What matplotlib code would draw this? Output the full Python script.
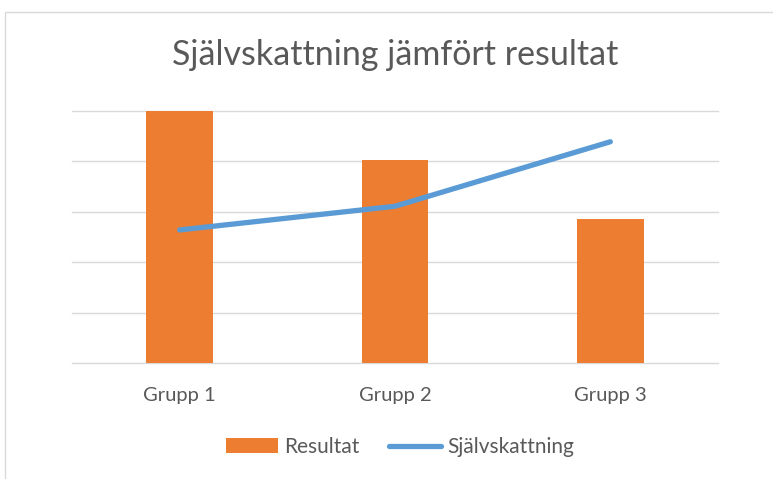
import matplotlib.pyplot as plt
import matplotlib as mpl
from matplotlib.patches import Rectangle
import numpy as np

GROUPS     = ["Grupp 1", "Grupp 2", "Grupp 3"]
RESULTAT   = [5.0, 4.02, 2.85]
SJALVSKATT = [2.64, 3.11, 4.39]

ORANGE = "#ED7D31"
BLUE   = "#5B9BD5"
GRID   = "#D9D9D9"
TEXT   = "#595959"

plt.rcParams["font.family"] = ["Lato", "DejaVu Sans"]

fig = plt.figure(figsize=(7.73, 4.79), dpi=100)
ax = fig.add_axes([72 / 773, (479 - 363) / 479, 646 / 773, 252 / 479])

# chart frame, runs off the right and bottom of the picture
fig.patches.append(Rectangle((5 / 773, -0.1), 1.2, (479 - 12) / 479 + 0.1,
                             transform=fig.transFigure, fill=False,
                             edgecolor=GRID, linewidth=1.0))

x = np.arange(len(GROUPS))
bars = ax.bar(x, RESULTAT, width=0.31, color=ORANGE, label="Resultat", zorder=2)
line, = ax.plot(x, SJALVSKATT, color=BLUE, linewidth=3.8, solid_capstyle="round",
                solid_joinstyle="round", label="Självskattning", zorder=3)

ax.set_xlim(-0.5, 2.5)
ax.set_ylim(0, 5)
for v in range(0, 6):
    ax.axhline(v, color=GRID, linewidth=1.0, zorder=1, clip_on=False)

for s in ax.spines.values():
    s.set_visible(False)
ax.set_yticks([])
ax.set_xticks(x)
ax.set_xticklabels(GROUPS, fontsize=14.5, color=TEXT)
ax.tick_params(axis="x", length=0, pad=17)

fig.text(395 / 773, 1 - 55 / 479, "Självskattning jämfört resultat",
         ha="center", va="center", fontsize=24.5, color=TEXT)

leg = fig.legend([bars, line], ["Resultat", "Självskattning"], loc="center",
                 bbox_to_anchor=(400 / 773, 1 - 447 / 479),
                 ncol=2, frameon=False, fontsize=15, handlelength=2.5,
                 handletextpad=0.3, columnspacing=1.4)
for t in leg.get_texts():
    t.set_color(TEXT)

fig.savefig("out.png", dpi=100)
